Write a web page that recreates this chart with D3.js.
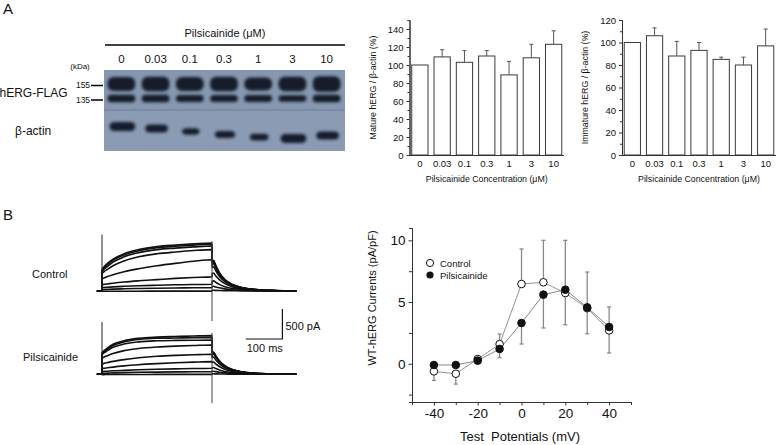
<!DOCTYPE html>
<html>
<head>
<meta charset="utf-8">
<script src="https://cdn.jsdelivr.net/npm/d3@7/dist/d3.min.js"></script>
<style>
  body { margin: 0; background: #fff; }
  svg text { font-family: Arial, "Liberation Sans", Helvetica, sans-serif; fill: #111; }
</style>
</head>
<body>
<svg id="fig" width="778" height="445"></svg>
<script>
// ---------- panel A: blot and densitometry ----------
const concLabels = ["0", "0.03", "0.1", "0.3", "1", "3", "10"];
const matureMean = [100, 109, 103, 110, 89, 108, 123];
const matureSem = [0, 8, 13, 6, 15, 15, 15];
const immatureMean = [100, 106, 88, 93, 85, 80, 97];
const immatureSem = [0, 7, 13, 7, 2, 7, 15];
const matureTicks = [0, 20, 40, 60, 80, 100, 120, 140];
const matureMinor = [10, 30, 50, 70, 90, 110, 130, 150];
const immatureTicks = [0, 20, 40, 60, 80, 100, 120];
const immatureMinor = [10, 30, 50, 70, 90, 110];
const kdaMarkers = [155, 135];

// actin band (relative to lane 0)
const actinDensity = [1.0, 0.9, 0.7, 0.8, 0.75, 1.0, 0.9];
const actinMigration = [0, 2, 5, 8, 10.5, 12, 9];

// ---------- panel B: current traces (pA) ----------
const holdTimes = [-14, 0];
const stepTimes = [0.5, 5, 15, 30, 60, 100, 150, 200, 250, 300];
const tailTimes = [300.5, 304, 310, 320, 335, 355, 380, 420, 470, 530];

const ctrlStep = [
  [360, 400, 460, 530, 620, 690, 740, 765, 785, 800],
  [340, 380, 440, 510, 600, 670, 720, 745, 765, 780],
  [320, 360, 410, 480, 570, 640, 690, 715, 735, 750],
  [290, 320, 360, 420, 500, 570, 620, 650, 675, 690],
  [200, 215, 240, 270, 320, 370, 420, 460, 495, 520],
  [105, 110, 118, 130, 150, 170, 190, 210, 225, 235],
  [55, 58, 62, 68, 78, 88, 96, 103, 108, 112],
  [22, 24, 27, 31, 37, 42, 47, 51, 54, 56],
  [-5, -5, -4, -4, -3, -3, -2, -2, -2, -2]
];
const ctrlTail = [
  [490, 510, 430, 305, 190, 110, 60, 25, 8, 0],
  [485, 505, 425, 300, 188, 108, 58, 24, 8, 0],
  [470, 490, 410, 292, 182, 105, 56, 23, 7, 0],
  [440, 460, 385, 275, 172, 100, 53, 22, 7, 0],
  [390, 405, 340, 245, 155, 90, 48, 20, 6, 0],
  [290, 300, 255, 190, 122, 72, 39, 16, 5, 0],
  [160, 168, 145, 110, 72, 44, 24, 10, 4, 0],
  [75, 78, 68, 53, 36, 22, 13, 5, 2, 0],
  [12, 12, 10, 8, 6, 4, 2, 1, 0, 0]
];
const pilStep = [
  [360, 390, 440, 500, 560, 600, 620, 630, 638, 644],
  [345, 375, 420, 480, 540, 580, 600, 605, 610, 612],
  [330, 355, 395, 450, 505, 540, 558, 565, 568, 570],
  [270, 285, 310, 345, 395, 430, 455, 470, 480, 489],
  [170, 180, 195, 215, 245, 275, 300, 315, 325, 333],
  [95, 100, 108, 120, 140, 160, 178, 192, 203, 211],
  [45, 48, 52, 58, 66, 75, 84, 91, 96, 100],
  [15, 17, 19, 23, 28, 33, 37, 40, 42, 44],
  [-5, -5, -4, -4, -3, -3, -2, -2, -2, -2]
];
const pilTail = [
  [355, 372, 312, 226, 141, 80, 42, 17, 5, 0],
  [350, 366, 306, 222, 138, 79, 41, 17, 5, 0],
  [342, 358, 300, 218, 135, 77, 40, 16, 5, 0],
  [325, 340, 286, 208, 128, 73, 38, 15, 5, 0],
  [275, 288, 243, 178, 110, 64, 33, 13, 4, 0],
  [198, 205, 174, 130, 82, 48, 25, 10, 3, 0],
  [110, 113, 97, 73, 48, 28, 15, 6, 2, 0],
  [50, 52, 45, 35, 23, 14, 8, 3, 1, 0],
  [8, 8, 7, 6, 4, 3, 2, 1, 0, 0]
];
// capacitive transients: [onset peak, offset peak, offset trough]
const ctrlTransient = [940, 830, -500];
const pilTransient = [870, 690, -480];

// ---------- panel B: I-V relation (pA/pF) ----------
const voltages = [-40, -30, -20, -10, 0, 10, 20, 30, 40];
const ctrlMean = [-0.62, -0.81, 0.38, 1.59, 6.46, 6.6, 5.73, 4.5, 2.7];
const ctrlSem = [0.73, 0.84, 0, 0.81, 2.84, 3.4, 4.27, 2.93, 1.83];
const ctrlErrDir = [-1, -1, 1, 1, 1, 1, 1, 1, -1];
const pilMean = [-0.1, -0.1, 0.25, 1.2, 3.3, 5.6, 6.0, 4.57, 2.98];
const pilSem = [0, 0, 0, 0.7, 1.7, 2.7, 2.84, 2.14, 1.62];
const pilErrDir = [-1, -1, -1, -1, -1, -1, -1, -1, 1];
const ivMajorX = [-40, -20, 0, 20, 40];
const ivMinorX = [-50, -30, -10, 10, 30, 50];
const ivMajorY = [0, 5, 10];
const ivMinorY = [-2.5, 2.5, 7.5];

const svg = d3.select("#fig");

function styleAxis(g, size) {
  g.selectAll("path, line").attr("stroke", "#333");
  g.selectAll("text")
    .attr("font-size", size)
    .attr("font-family", null)
    .attr("fill", "#111");
}

// panel letters
svg.append("text").attr("x", 3).attr("y", 14).attr("font-size", 15).text("A");
svg.append("text").attr("x", 3).attr("y", 220).attr("font-size", 15).text("B");

// ---------- blot ----------
function drawBlot() {
  const defs = svg.append("defs");
  defs.append("filter").attr("id", "smear")
    .attr("x", "-20%").attr("y", "-60%").attr("width", "140%").attr("height", "220%")
    .append("feGaussianBlur").attr("stdDeviation", 1.6);

  const lane = d3.scaleBand().domain(concLabels).range([106, 342]).paddingInner(0.1);
  const yKda = d3.scaleLog().domain(kdaMarkers).range([84, 98.5]);
  const yActin = d3.scaleLinear().domain([0, 12]).range([126.5, 138.5]);

  svg.append("text").attr("x", 225).attr("y", 37).attr("text-anchor", "middle")
    .attr("font-size", 11).text("Pilsicainide (μM)");
  svg.append("line").attr("x1", 105).attr("x2", 345).attr("y1", 45).attr("y2", 45)
    .attr("stroke", "#000").attr("stroke-width", 1.6);

  svg.selectAll(".laneLabel").data(concLabels).join("text")
    .attr("class", "laneLabel")
    .attr("x", d => lane(d) + lane.bandwidth() / 2)
    .attr("y", 63).attr("text-anchor", "middle").attr("font-size", 11.5)
    .text(d => d);

  svg.append("rect").attr("x", 104).attr("y", 70).attr("width", 241).attr("height", 81)
    .attr("fill", "#8698b0");
  svg.append("rect").attr("x", 104).attr("y", 110).attr("width", 241).attr("height", 41)
    .attr("fill", "#8a9bb3");
  svg.append("line").attr("x1", 104).attr("x2", 345).attr("y1", 110).attr("y2", 110)
    .attr("stroke", "#6c7c94").attr("stroke-width", 1);

  const bands = svg.append("g").attr("filter", "url(#smear)");
  // mature (155 kDa) band
  bands.selectAll(".mature").data(concLabels).join("rect")
    .attr("x", d => lane(d) + 1.5)
    .attr("width", lane.bandwidth() - 3)
    .attr("y", (d, i) => yKda(155) - 7 * Math.sqrt(matureMean[i] / 100))
    .attr("height", (d, i) => 14 * Math.sqrt(matureMean[i] / 100))
    .attr("rx", 6).attr("fill", "#161d2b");
  // immature (135 kDa) band
  bands.selectAll(".immature").data(concLabels).join("rect")
    .attr("x", d => lane(d) + 1.5)
    .attr("width", lane.bandwidth() - 3)
    .attr("y", (d, i) => yKda(135) - 3.7 * Math.sqrt(immatureMean[i] / 100))
    .attr("height", (d, i) => 7.4 * Math.sqrt(immatureMean[i] / 100))
    .attr("rx", 3.5).attr("fill", "#171e2c");
  // beta-actin band
  bands.selectAll(".actin").data(concLabels).join("rect")
    .attr("x", (d, i) => lane(d) + lane.bandwidth() * (0.5 - 0.45 * actinDensity[i]) + 2)
    .attr("width", (d, i) => lane.bandwidth() * 0.9 * actinDensity[i] - 2)
    .attr("y", (d, i) => yActin(actinMigration[i]) - 4.5 * actinDensity[i])
    .attr("height", (d, i) => 9 * actinDensity[i])
    .attr("rx", 4.5).attr("fill", "#181f2d");

  // size markers
  svg.append("text").attr("x", 80).attr("y", 69).attr("text-anchor", "middle")
    .attr("font-size", 8).text("(kDa)");
  kdaMarkers.forEach(m => {
    svg.append("text").attr("x", 83).attr("y", yKda(m) + (m === 155 ? 4 : 4.5))
      .attr("text-anchor", "middle").attr("font-size", 8.5).text(m);
    svg.append("line").attr("x1", 91).attr("x2", 103)
      .attr("y1", yKda(m) + 1.5).attr("y2", yKda(m) + 1.5)
      .attr("stroke", "#000").attr("stroke-width", 1.5);
  });
  svg.append("text").attr("x", -0.5).attr("y", 97).attr("font-size", 12).text("hERG-FLAG");
  svg.append("text").attr("x", 15).attr("y", 135).attr("font-size", 12).text("β-actin");
}

// ---------- bar charts ----------
function drawBars(means, sems, ticks, minor, yMax, xRange, yLabel) {
  const x = d3.scaleBand().domain(concLabels).range(xRange).paddingInner(0.27).paddingOuter(0.1);
  const y = d3.scaleLinear().domain([0, yMax]).range([155, 20]);
  const g = svg.append("g");

  const minorAxis = g.append("g").attr("transform", `translate(${xRange[0]},0)`)
    .call(d3.axisLeft(y).tickValues(minor).tickSize(2).tickFormat(""));
  styleAxis(minorAxis, 9.5);
  const yAxis = g.append("g").attr("transform", `translate(${xRange[0]},0)`)
    .call(d3.axisLeft(y).tickValues(ticks).tickSize(3).tickPadding(3).tickSizeOuter(0));
  styleAxis(yAxis, 9.5);

  g.selectAll(".bar").data(means).join("rect")
    .attr("x", (d, i) => x(concLabels[i]))
    .attr("width", x.bandwidth())
    .attr("y", d => y(d))
    .attr("height", d => y(0) - y(d))
    .attr("fill", "#fff").attr("stroke", "#3a3a3a").attr("stroke-width", 1);

  // error bars (upper half only)
  means.forEach((m, i) => {
    if (!sems[i]) return;
    const cx = x(concLabels[i]) + x.bandwidth() / 2;
    const top = y(m + sems[i]);
    g.append("line").attr("x1", cx).attr("x2", cx).attr("y1", y(m)).attr("y2", top)
      .attr("stroke", "#555").attr("stroke-width", 1);
    g.append("line").attr("x1", cx - 2).attr("x2", cx + 2).attr("y1", top).attr("y2", top)
      .attr("stroke", "#555").attr("stroke-width", 1);
  });

  const xAxis = g.append("g").attr("transform", `translate(0,${y(0)})`)
    .call(d3.axisBottom(x).tickSize(0).tickPadding(5));
  xAxis.select(".domain").attr("d", `M${xRange[0]},0.5H${xRange[1]}`);
  styleAxis(xAxis, 9.5);

  g.append("text").attr("x", (xRange[0] + xRange[1]) / 2).attr("y", 182)
    .attr("text-anchor", "middle").attr("font-size", 8.8)
    .text("Pilsicainide Concentration (μM)");
  g.append("text")
    .attr("transform", `translate(${xRange[0] - 34},${(y(0) + y(yMax)) / 2}) rotate(-90)`)
    .attr("text-anchor", "middle").attr("font-size", 8.8)
    .text(yLabel);
}

// ---------- current traces ----------
function drawTraces(stepData, tailData, transient, baseY, label, labelX) {
  const t = d3.scaleLinear().domain([0, 300]).range([102, 212]);
  const amp = d3.scaleLinear().domain([0, 500]).range([baseY, baseY - 30]);
  const line = d3.line().x(d => t(d[0])).y(d => amp(d[1])).curve(d3.curveMonotoneX);
  const g = svg.append("g");

  stepData.forEach((step, k) => {
    const pts = holdTimes.map(tt => [tt, 0])
      .concat(stepTimes.map((tt, j) => [tt, step[j]]))
      .concat(tailTimes.map((tt, j) => [tt, tailData[k][j]]));
    g.append("path").attr("d", line(pts))
      .attr("fill", "none").attr("stroke", "#111").attr("stroke-width", 1.6)
      .attr("stroke-linejoin", "round");
  });
  g.append("line").attr("x1", t(0)).attr("x2", t(0))
    .attr("y1", amp(0)).attr("y2", amp(transient[0]))
    .attr("stroke", "#222").attr("stroke-width", 1);
  g.append("line").attr("x1", t(300)).attr("x2", t(300))
    .attr("y1", amp(transient[2])).attr("y2", amp(transient[1]))
    .attr("stroke", "#444").attr("stroke-width", 1);

  svg.append("text").attr("x", labelX).attr("y", baseY - 13).attr("font-size", 11).text(label);
  return { t, amp };
}

function drawIV() {
  const x = d3.scaleLinear().domain([-50, 50]).range([412, 631]);
  const y = d3.scaleLinear().domain([-3.1, 11]).range([402, 228]);
  const g = svg.append("g");

  const xMinor = g.append("g").attr("transform", "translate(0,402)")
    .call(d3.axisBottom(x).tickValues(ivMinorX).tickSize(3).tickFormat(""));
  styleAxis(xMinor, 13.5);
  const xAxis = g.append("g").attr("transform", "translate(0,402)")
    .call(d3.axisBottom(x).tickValues(ivMajorX).tickSize(3.5).tickPadding(3).tickSizeOuter(0));
  styleAxis(xAxis, 13.5);
  const yMinor = g.append("g").attr("transform", "translate(412,0)")
    .call(d3.axisLeft(y).tickValues(ivMinorY).tickSize(3).tickFormat(""));
  styleAxis(yMinor, 13.5);
  const yAxis = g.append("g").attr("transform", "translate(412,0)")
    .call(d3.axisLeft(y).tickValues(ivMajorY).tickSize(3.5).tickPadding(3).tickSizeOuter(0));
  styleAxis(yAxis, 13.5);
  xAxis.selectAll("text").text(d => d < 0 ? "-" + Math.abs(d) : d);

  const line = d3.line().x((d, i) => x(voltages[i])).y(d => y(d));
  g.append("path").attr("d", line(ctrlMean)).attr("fill", "none")
    .attr("stroke", "#777").attr("stroke-width", 0.8);
  g.append("path").attr("d", line(pilMean)).attr("fill", "none")
    .attr("stroke", "#666").attr("stroke-width", 0.8);

  function errBars(mean, sem, dir) {
    const e = g.append("g").attr("stroke", "#8a8a8a").attr("stroke-width", 1.3);
    voltages.forEach((v, i) => {
      if (sem[i] <= 0) return;
      const end = y(mean[i] + dir[i] * sem[i]);
      e.append("line").attr("x1", x(v)).attr("x2", x(v)).attr("y1", y(mean[i])).attr("y2", end);
      e.append("line").attr("x1", x(v) - 2).attr("x2", x(v) + 2).attr("y1", end).attr("y2", end);
    });
  }
  errBars(ctrlMean, ctrlSem, ctrlErrDir);
  errBars(pilMean, pilSem, pilErrDir);

  g.selectAll(".ctrlDot").data(ctrlMean).join("circle")
    .attr("cx", (d, i) => x(voltages[i])).attr("cy", d => y(d)).attr("r", 3.8)
    .attr("fill", "#fff").attr("stroke", "#111").attr("stroke-width", 1);
  g.selectAll(".pilDot").data(pilMean).join("circle")
    .attr("cx", (d, i) => x(voltages[i])).attr("cy", d => y(d)).attr("r", 3.8)
    .attr("fill", "#111").attr("stroke", "#111").attr("stroke-width", 1);

  // legend
  g.append("circle").attr("cx", 430).attr("cy", 263).attr("r", 3.6)
    .attr("fill", "#fff").attr("stroke", "#111");
  g.append("text").attr("x", 440).attr("y", 266.5).attr("font-size", 9.5).text("Control");
  g.append("circle").attr("cx", 430).attr("cy", 275).attr("r", 3.6).attr("fill", "#111");
  g.append("text").attr("x", 440).attr("y", 278.5).attr("font-size", 9.5).text("Pilsicainide");

  g.append("text").attr("x", 520).attr("y", 441).attr("text-anchor", "middle")
    .attr("font-size", 13).attr("xml:space", "preserve").text("Test  Potentials (mV)");
  g.append("text").attr("transform", "translate(376,298) rotate(-90)")
    .attr("text-anchor", "middle").attr("font-size", 11).text("WT-hERG Currents (pA/pF)");
}

drawBlot();
drawBars(matureMean, matureSem, matureTicks, matureMinor, 150, [409.5, 564], "Mature hERG / β-actin (%)");
drawBars(immatureMean, immatureSem, immatureTicks, immatureMinor, 120, [622, 776], "Immature hERG / β-actin (%)");

drawTraces(ctrlStep, ctrlTail, ctrlTransient, 291, "Control", 32);
const sc = drawTraces(pilStep, pilTail, pilTransient, 374.3, "Pilsicainide", 23);

// scale bar: 100 ms x 500 pA
const barX0 = sc.t(392), barX1 = sc.t(492);
const barY = 339, barTop = barY - (sc.amp(0) - sc.amp(500));
svg.append("path").attr("d", `M${barX0},${barY}H${barX1}V${barTop}`)
  .attr("fill", "none").attr("stroke", "#111").attr("stroke-width", 1.2);
svg.append("text").attr("x", barX1 + 3).attr("y", 330).attr("font-size", 11).text("500 pA");
svg.append("text").attr("x", barX0 + 1).attr("y", 352).attr("font-size", 11).text("100 ms");

drawIV();
</script>
</body>
</html>
